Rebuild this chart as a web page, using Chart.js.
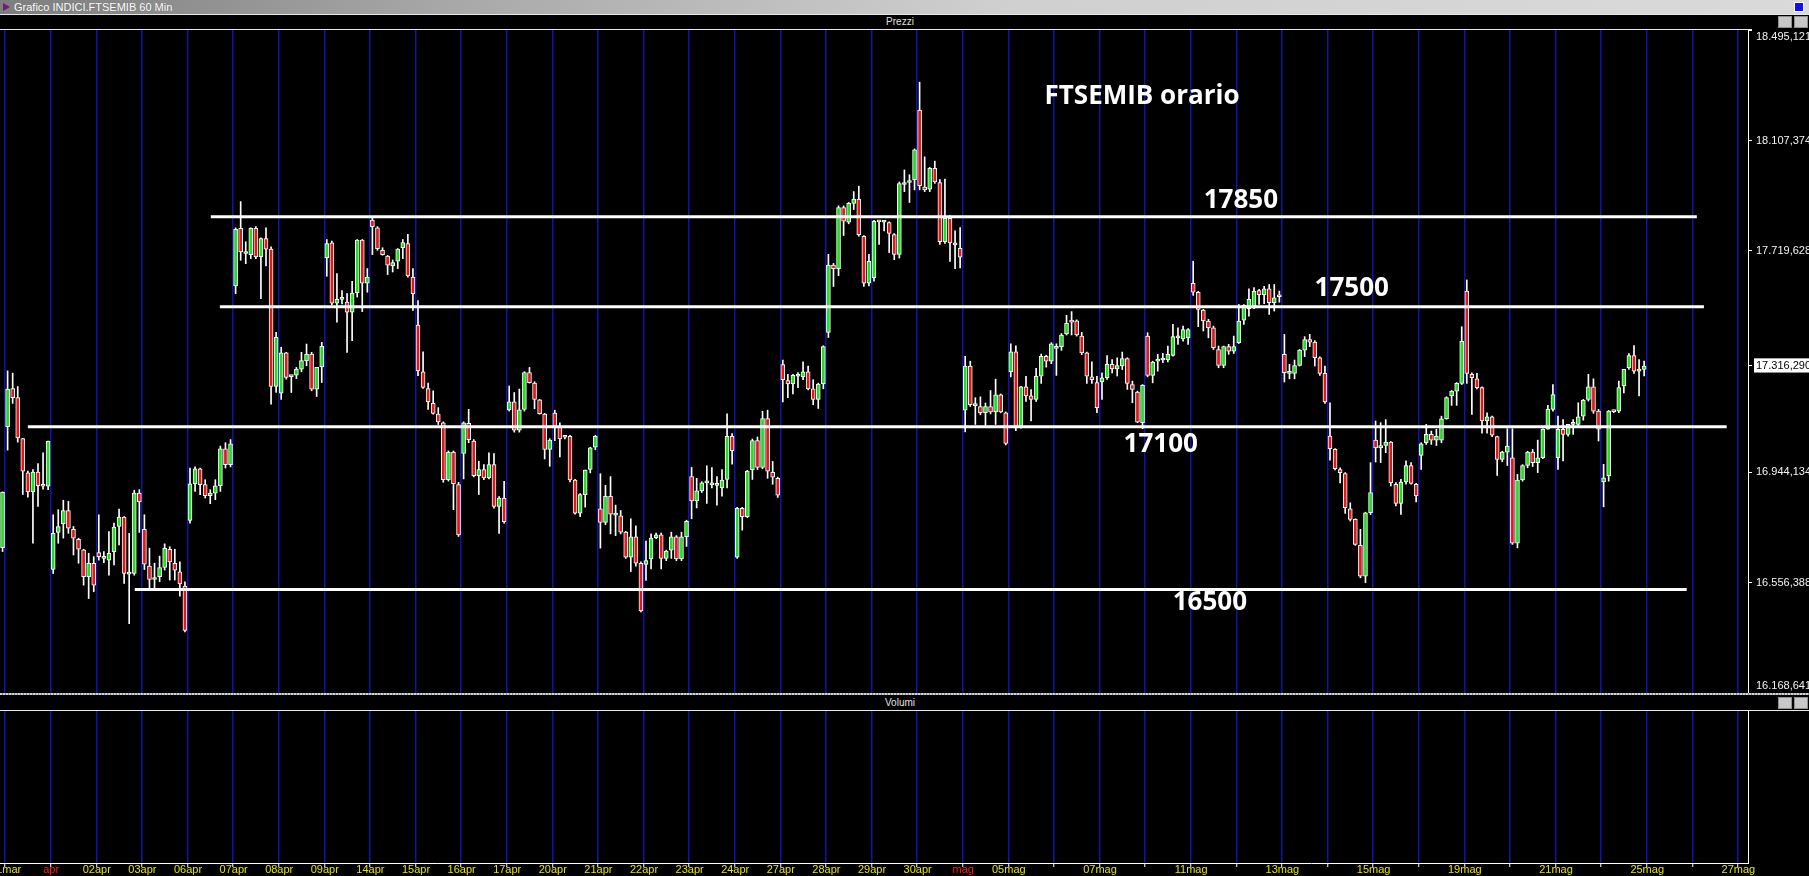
<!DOCTYPE html>
<html>
<head>
<meta charset="utf-8">
<script src="https://cdn.jsdelivr.net/npm/chart.js@4.4.1/dist/chart.umd.min.js"></script>
<style>
  html, body { margin:0; padding:0; background:#000; }
  body { width:1809px; height:876px; overflow:hidden; position:relative; font-family:'Liberation Sans', Arial, sans-serif; }
  #tb { position:absolute; left:0; top:0; width:1809px; height:14px;
        background: linear-gradient(to right, #7e7e7e 0%, #a8a8a8 25%, #cfcfcf 55%, #dadada 100%); }
  #tb .ico { position:absolute; left:3px; top:3px; width:0; height:0; border-top:4px solid transparent; border-bottom:4px solid transparent; border-left:7px solid #6a1f7a; }
  #tb .tt { position:absolute; left:14px; top:0; font-size:11px; line-height:14px; color:#fff; text-shadow:0 0 1px #666; white-space:nowrap; }
  #tb .sq { position:absolute; left:1794px; top:2px; width:8px; height:8px; background:#1010f0; border:1px solid #fff; }
  .wl { position:absolute; left:0; width:1809px; height:1px; background:#e8e8e8; }
  .hdr { position:absolute; left:0; width:1809px; height:14px; font-size:10px; line-height:14px; color:#e0e0e0; }
  .hdr span { position:absolute; left:900px; transform:translateX(-50%); }
  .btn { position:absolute; width:12px; height:10px; background:#c8c8c8; border:1px solid #909090; }
  #sep { position:absolute; left:0; top:693px; width:1809px; height:2px;
         background: repeating-linear-gradient(90deg, #d0d4d8 0 2px, #7c8898 2px 3px); }
  .cw { position:absolute; left:0; width:1809px; }
  canvas { display:block; }
</style>
</head>
<body>
<div id="tb"><span class="ico"></span><span class="tt">Grafico INDICI.FTSEMIB 60 Min</span><span class="sq"></span></div>
<div class="wl" style="top:14px"></div>
<div class="hdr" style="top:15px"><span>Prezzi</span></div>
<div class="btn" style="left:1778px;top:16px"></div>
<div class="btn" style="left:1794px;top:16px"></div>
<div class="wl" style="top:29px;width:1752px"></div>
<div class="cw" style="top:30px;height:663px"><canvas id="price" width="1809" height="663"></canvas></div>
<div id="sep"></div>
<div class="hdr" style="top:696px"><span>Volumi</span></div>
<div class="btn" style="left:1778px;top:697px"></div>
<div class="btn" style="left:1794px;top:697px"></div>
<div class="wl" style="top:710px"></div>
<div class="cw" style="top:711px;height:165px"><canvas id="vol" width="1809" height="165"></canvas></div>

<script>
// ---------- categories ----------
const dayNames = ['31mar','01apr','02apr','03apr','06apr','07apr','08apr','09apr','14apr','15apr','16apr','17apr','20apr','21apr','22apr','23apr','24apr','27apr','28apr','29apr','30apr','04mag','05mag','06mag','07mag','08mag','11mag','12mag','13mag','14mag','15mag','18mag','19mag','20mag','21mag','22mag','25mag','26mag','27mag'];
const dayTicks = ['31mar','apr','02apr','03apr','06apr','07apr','08apr','09apr','14apr','15apr','16apr','17apr','20apr','21apr','22apr','23apr','24apr','27apr','28apr','29apr','30apr','mag','05mag','','07mag','','11mag','','13mag','','15mag','','19mag','','21mag','','25mag','','27mag'];
const monthStartTicks = ['apr','mag'];
const hours = ['09','10','11','12','13','14','15','16','17'];
const firstSlotLabel = '30mar 17';
const visibleSlotsLastDay = 2;

// ---------- hourly candles (slot 0 = 30mar 17h, then 9 bars per day) ----------
const opens = [
  16679,
  17103,17237,17205,17061,16941,16874,16944,16896,16894,
  16602,16732,16762,16809,16743,16708,16671,16577,16624,
  16661,16641,16635,16665,16753,16786,16586,16588,16870,
  16743,16614,16567,16577,16609,16673,16624,16594,16544,
  16774,16903,16955,16900,16861,16870,16896,17025,16970,
  17597,17799,17711,17707,17799,17699,17763,17726,17244,
  17221,17362,17279,17284,17305,17335,17358,17235,17313,
  17695,17748,17537,17550,17540,17505,17573,17758,17607,
  17828,17801,17722,17702,17667,17684,17731,17746,17628,
  17460,17296,17237,17185,17147,17117,16917,17014,16900,
  17009,17115,17053,16931,16953,16923,16970,16823,16853,
  17162,17190,17091,17164,17293,17256,17197,17147,17023,
  17151,17104,17068,17069,16916,16800,16865,16953,17031,
  16815,16767,16859,16793,16790,16733,16645,16717,16624,
  16620,16639,16714,16724,16641,16670,16717,16639,16717,
  16928,16843,16878,16906,16899,16897,16888,16918,17069,
  16645,16817,16787,16951,17054,16960,17132,16943,16922,
  17321,17265,17253,17280,17278,17296,17236,17199,17253,
  17434,17670,17658,17872,17821,17887,17902,17771,17607,
  17626,17824,17821,17819,17777,17708,17953,17960,17970,
  18214,17944,17937,18010,17960,17752,17834,17741,17729,
  17161,17316,17177,17174,17152,17174,17155,17215,17152,
  17296,17366,17104,17243,17211,17199,17280,17350,17333,
  17378,17384,17429,17472,17475,17421,17362,17278,17258,
  17260,17275,17322,17306,17316,17342,17251,17225,17117,
  17421,17283,17333,17337,17337,17353,17415,17412,17415,
  17606,17575,17512,17474,17450,17374,17318,17384,17368,
  17398,17477,17517,17520,17581,17566,17587,17538,17561,
  17357,17290,17290,17318,17372,17409,17400,17345,17290,
  17070,17024,16953,16939,16815,16778,16687,16579,16801,
  17056,17029,17037,17049,16901,16834,16909,16967,16901,
  17002,17047,17076,17056,17056,17131,17211,17228,17255,
  17579,17287,17271,17240,17123,17138,17068,16988,17014,
  16994,16694,16916,16967,17014,16977,16994,17094,17164,
  16994,17094,17076,17111,17111,17140,17199,17243,17158,
  16909,16930,17158,17158,17246,17310,17353,17298,17304
];
const highs = [
  16874,
  17299,17291,17244,17062,16947,16953,16974,17011,17053,
  16794,16812,16845,16841,16753,16712,16673,16659,16647,
  16794,16665,16735,16765,16814,16788,16729,16880,16882,
  16794,16677,16624,16649,16692,16682,16673,16629,16559,
  16958,16962,16958,16917,16882,16917,17035,17047,17058,
  17801,17893,17752,17801,17805,17766,17801,17734,17434,
  17382,17364,17281,17311,17364,17393,17364,17311,17399,
  17760,17754,17640,17581,17570,17613,17760,17760,17658,
  17836,17805,17731,17704,17688,17728,17760,17778,17658,
  17546,17366,17256,17229,17170,17120,17018,17018,16908,
  17120,17164,17058,16982,16970,17011,17009,16858,16911,
  17246,17223,17235,17296,17311,17261,17199,17150,17061,
  17161,17117,17073,17073,16918,16868,16951,17031,17073,
  16938,16897,16928,16828,16809,16736,16780,16755,16629,
  16702,16727,16730,16730,16670,16733,16721,16733,16775,
  16960,16922,16910,16966,16960,16928,16953,17148,17079,
  16820,16820,16950,17060,17067,17157,17161,16981,16926,
  17337,17287,17287,17293,17331,17316,17268,17256,17387,
  17708,17676,17878,17878,17890,17928,17947,17774,17708,
  17827,17827,17827,17822,17781,17962,18004,17987,18078,
  18312,18050,18013,18035,17970,17972,17844,17790,17802,
  17350,17333,17205,17208,17186,17230,17270,17218,17155,
  17394,17387,17245,17280,17233,17308,17358,17354,17398,
  17394,17430,17494,17507,17478,17434,17365,17331,17280,
  17292,17353,17339,17345,17365,17345,17263,17228,17251,
  17433,17333,17357,17360,17386,17462,17450,17456,17447,
  17684,17578,17515,17480,17456,17386,17386,17392,17421,
  17532,17532,17587,17591,17585,17596,17602,17602,17579,
  17427,17322,17337,17374,17419,17427,17405,17348,17316,
  17187,17026,16959,16942,16836,16780,16743,16803,16977,
  17123,17117,17128,17051,16907,16918,16983,16977,16904,
  17047,17111,17088,17094,17140,17208,17230,17258,17454,
  17618,17292,17290,17243,17152,17140,17070,17017,17096,
  17096,16936,16970,17017,17023,17056,17096,17178,17251,
  17140,17128,17111,17128,17187,17199,17287,17271,17164,
  16971,17160,17160,17263,17304,17360,17388,17339,17333
];
const lows = [
  16665,
  17021,17185,17049,16865,16856,16694,16823,16884,16882,
  16588,16694,16712,16729,16653,16624,16547,16500,16524,
  16635,16626,16582,16618,16688,16553,16412,16582,16732,
  16602,16538,16538,16559,16600,16565,16565,16508,16383,
  16765,16876,16865,16853,16833,16847,16876,16958,16962,
  17570,17687,17675,17693,17693,17552,17667,17182,17223,
  17199,17270,17223,17272,17296,17317,17229,17209,17258,
  17631,17531,17470,17534,17364,17405,17558,17507,17575,
  17707,17722,17705,17637,17646,17658,17693,17628,17511,
  17282,17237,17164,17147,17111,16908,16912,16812,16718,
  16920,17047,16927,16865,16917,16920,16817,16729,16765,
  17158,17084,17084,17158,17256,17166,17147,16990,16964,
  17054,16997,17060,16909,16796,16787,16821,16941,17022,
  16677,16759,16727,16721,16727,16641,16595,16614,16453,
  16564,16604,16710,16604,16633,16641,16633,16633,16683,
  16780,16818,16872,16834,16888,16828,16859,16888,16972,
  16641,16740,16784,16918,16953,16956,16922,16901,16855,
  17190,17205,17218,17240,17268,17232,17180,17167,17236,
  17416,17595,17633,17774,17815,17865,17771,17595,17597,
  17614,17743,17790,17714,17689,17695,17928,17890,17934,
  17934,17928,17928,17957,17743,17746,17683,17658,17660,
  17085,17174,17111,17145,17107,17148,17111,17152,17039,
  17278,17089,17098,17192,17123,17192,17255,17312,17324,
  17283,17371,17425,17425,17421,17356,17255,17255,17152,
  17199,17269,17292,17281,17304,17234,17187,17117,17096,
  17278,17257,17298,17328,17330,17351,17392,17403,17392,
  17564,17454,17439,17415,17374,17310,17310,17357,17360,
  17395,17462,17491,17517,17532,17535,17497,17509,17540,
  17260,17271,17271,17316,17349,17384,17316,17283,17185,
  16986,16951,16906,16799,16772,16687,16573,16556,16795,
  16979,16977,17012,16895,16825,16795,16901,16901,16839,
  16953,17041,17041,17037,17047,17129,17178,17178,17251,
  17255,17146,17236,17080,17080,17068,16932,16980,16967,
  16690,16678,16912,16959,16963,16942,16991,17094,17158,
  16953,16983,17070,17076,17105,17126,17193,17150,17053,
  16822,16912,17152,17152,17222,17304,17290,17211,17281
];
const closes = [
  16874,
  17235,17205,17064,16947,16874,16944,16896,16894,17053,
  16729,16753,16809,16747,16712,16673,16577,16624,16547,
  16647,16643,16659,16751,16786,16588,16588,16870,16839,
  16621,16567,16574,16609,16676,16629,16600,16551,16388,
  16903,16955,16900,16861,16870,16896,17025,16970,17043,
  17796,17716,17713,17799,17699,17763,17726,17244,17417,
  17362,17276,17281,17305,17335,17358,17235,17311,17385,
  17746,17537,17550,17552,17505,17572,17758,17607,17628,
  17805,17728,17707,17670,17679,17726,17749,17632,17570,
  17299,17241,17190,17150,17120,16917,17014,16903,16723,
  17117,17058,16931,16953,16923,16970,16823,16853,16770,
  17190,17091,17162,17293,17258,17199,17149,17023,17056,
  17104,17060,17066,16916,16800,16865,16951,17029,17069,
  16767,16859,16796,16795,16733,16645,16717,16624,16457,
  16633,16712,16724,16641,16667,16717,16639,16717,16771,
  16843,16878,16906,16908,16901,16899,16916,17069,17019,
  16817,16787,16947,17054,16960,17132,16947,16926,16863,
  17268,17253,17283,17282,17296,17236,17199,17253,17384,
  17670,17658,17872,17824,17887,17902,17777,17607,17683,
  17824,17822,17823,17781,17708,17956,17957,17962,18075,
  17949,17934,18010,17962,17752,17834,17748,17743,17698,
  17316,17180,17179,17152,17174,17155,17215,17155,17044,
  17366,17104,17243,17211,17199,17280,17350,17333,17394,
  17380,17425,17466,17470,17425,17362,17280,17268,17170,
  17275,17322,17306,17318,17342,17255,17234,17119,17248,
  17283,17330,17337,17338,17357,17419,17417,17444,17444,
  17575,17515,17474,17450,17380,17318,17384,17368,17384,
  17474,17529,17550,17578,17566,17587,17538,17555,17559,
  17293,17292,17318,17372,17409,17400,17345,17290,17190,
  17026,16956,16942,16819,16778,16690,16579,16801,16872,
  17029,17037,17049,16907,16834,16909,16967,16904,16860,
  17043,17076,17056,17070,17131,17205,17228,17255,17403,
  17290,17275,17240,17123,17138,17073,16988,17014,17035,
  16694,16916,16967,17014,16977,16994,17094,17164,17216,
  17094,17076,17111,17113,17138,17196,17243,17158,17094,
  16924,17158,17156,17240,17304,17353,17298,17300,17316
];

// ---------- price axis ----------
const yMin = 16168.641;
const yMax = 18495.121;
const yTickValues = [16168.641, 16556.388, 16944.134, 17316.290, 17719.628, 18107.374, 18495.121];
const lastPrice = 17316.290;

// ---------- hand-drawn levels and notes ----------
const levelValues = [17840, 17524, 17103, 16532];
const levelFrom  = [41.1, 42.9, 5.0, 26.1];
const levelTo    = [334.4, 335.8, 340.3, 332.4];
const noteTexts  = ['FTSEMIB orario', '17850', '17500', '17100', '16500'];
const noteSlots  = [224.9, 244.4, 266.3, 228.6, 238.3];
const noteValues = [18260, 17898, 17586, 17042, 16486];

// ---------- build labels ----------
const slotLabels = [firstSlotLabel];
const slotTick = [''];
const slotDayStart = [false];
dayNames.forEach((d, k) => {
  const n = (k === dayNames.length - 1) ? visibleSlotsLastDay : hours.length;
  for (let h = 0; h < n; h++) {
    slotLabels.push(d + ' ' + hours[h]);
    slotTick.push(h === 0 ? dayTicks[k] : '');
    slotDayStart.push(h === 0);
  }
});
const N = slotLabels.length;

const GREEN = '#22dd22', RED = '#e01818', BLUE = 'rgb(18,18,172)';
const bodies = opens.map((o, i) => [Math.min(o, closes[i]), Math.max(o, closes[i])]);
const wicks = lows.map((l, i) => [l, highs[i]]);
const bodyColors = opens.map((o, i) => closes[i] > o ? GREEN : (closes[i] < o ? RED : '#ffffff'));

function fmtIt(v) {
  const s = v.toFixed(3);
  const parts = s.split('.');
  return parts[0].replace(/\B(?=(\d{3})+(?!\d))/g, '.') + ',' + parts[1];
}
const isLast = (c) => c.tick && Math.abs(c.tick.value - lastPrice) < 0.001;
const dayGrid = (c) => (c.tick && slotDayStart[c.index]) ? BLUE : 'rgba(0,0,0,0)';

const notesPlugin = {
  id: 'notes',
  afterDatasetsDraw(chart) {
    const { ctx, scales } = chart;
    ctx.save();
    ctx.fillStyle = '#ffffff';
    ctx.textAlign = 'center';
    ctx.textBaseline = 'middle';
    ctx.font = 'bold 26px "Open Sans", Lato, sans-serif';
    noteTexts.forEach((t, i) => {
      ctx.fillText(t, scales.xl.getPixelForValue(noteSlots[i]), scales.y.getPixelForValue(noteValues[i]));
    });
    ctx.restore();
  }
};

const tickFont = { family: 'Liberation Sans', size: 11, lineHeight: 1.2 };

new Chart(document.getElementById('price'), {
  type: 'bar',
  data: {
    labels: slotLabels,
    datasets: [
      ...levelValues.map((v, i) => ({
        type: 'line', label: 'level ' + v, xAxisID: 'xl', yAxisID: 'y',
        data: [{ x: levelFrom[i], y: v }, { x: levelTo[i], y: v }],
        borderColor: '#ffffff', borderWidth: 3, pointRadius: 0, order: -1
      })),
      { type: 'bar', label: 'corpo', data: bodies, backgroundColor: bodyColors, borderColor: '#ffffff',
        borderWidth: 1, borderSkipped: false, barThickness: 4, minBarLength: 2, grouped: false, order: 1 },
      { type: 'bar', label: 'ombra', data: wicks, backgroundColor: '#ffffff', borderWidth: 0,
        barThickness: 1, grouped: false, order: 2 }
    ]
  },
  options: {
    responsive: false, animation: false, devicePixelRatio: 1,
    layout: { padding: 0 },
    plugins: { legend: { display: false }, tooltip: { enabled: false } },
    scales: {
      x: {
        type: 'category', offset: true,
        grid: { offset: true, color: dayGrid, lineWidth: 1.5, drawTicks: false },
        border: { display: false },
        ticks: { display: false, autoSkip: false },
        afterFit: (s) => { s.height = 0; s.paddingLeft = 0; s.paddingRight = 0; }
      },
      xl: { type: 'linear', display: false, offset: false, grid: { offset: false }, min: -0.5, max: N - 0.5 },
      y: {
        position: 'right', min: yMin, max: yMax,
        afterBuildTicks: (s) => { s.ticks = yTickValues.map(v => ({ value: v })); },
        afterFit: (s) => { s.width = 61; s.paddingTop = 0; s.paddingBottom = 0; },
        grid: { drawOnChartArea: false, color: '#ffffff', tickLength: 4, tickColor: '#ffffff' },
        border: { display: true, color: '#ffffff', width: 1 },
        ticks: {
          autoSkip: false, padding: 4, font: tickFont,
          color: (c) => isLast(c) ? '#000000' : '#f4f4f4',
          showLabelBackdrop: (c) => isLast(c),
          backdropColor: '#ffffff',
          backdropPadding: { left: 2, right: 8, top: 1, bottom: 0 },
          callback: (v, i, t) => {
            const s = fmtIt(v);
            if (i === t.length - 1) return ['', s];
            if (i === 0) return [s, ''];
            return s;
          }
        }
      }
    }
  },
  plugins: [notesPlugin]
});

new Chart(document.getElementById('vol'), {
  type: 'bar',
  data: { labels: slotLabels, datasets: [{ label: 'Volumi', data: [] }] },
  options: {
    responsive: false, animation: false, devicePixelRatio: 1,
    layout: { padding: 0 },
    plugins: { legend: { display: false }, tooltip: { enabled: false } },
    scales: {
      x: {
        type: 'category', offset: true,
        grid: { offset: true, color: dayGrid, lineWidth: 1.5, tickLength: 4,
                tickColor: (c) => (c.tick && slotDayStart[c.index]) ? '#ffffff' : 'rgba(0,0,0,0)', tickWidth: 1 },
        border: { display: true, color: '#ffffff', width: 1 },
        ticks: {
          autoSkip: false, maxRotation: 0, minRotation: 0, padding: -4, labelOffset: -2, font: tickFont,
          color: (c) => monthStartTicks.includes(slotTick[c.index]) ? '#ff1a1a' : '#e6e600',
          callback: (v, i) => slotTick[i]
        },
        afterFit: (s) => { s.height = 13; s.paddingLeft = 0; s.paddingRight = 0; }
      },
      y: {
        position: 'right', min: 0, max: 1,
        ticks: { display: false },
        grid: { drawOnChartArea: false, drawTicks: false },
        border: { display: true, color: '#ffffff', width: 1 },
        afterFit: (s) => { s.width = 61; s.paddingTop = 0; s.paddingBottom = 0; }
      }
    }
  }
});
</script>
</body>
</html>
